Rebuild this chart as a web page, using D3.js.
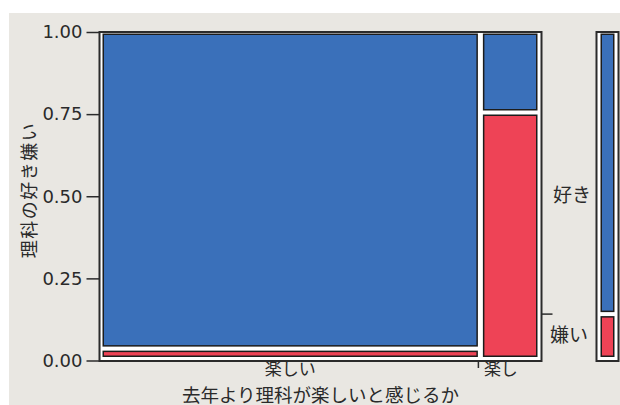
<!DOCTYPE html>
<html>
<head>
<meta charset="utf-8">
<script src="https://cdn.jsdelivr.net/npm/d3@7/dist/d3.min.js"></script>
<style>
  html, body { margin: 0; padding: 0; background: #ffffff; }
  svg { display: block; }
</style>
</head>
<body>
<script>
// ---- data ----
const xCategories = ["楽しい", "楽し"];          // x-axis groups (second label clipped)
const xShares = [0.873, 0.127];                  // column widths (share of respondents)
const yCategories = ["嫌い", "好き"];            // bottom to top
const dislikeShare = [0.02, 0.759];              // share of 嫌い within each column
const overallDislike = 0.128;                    // share of 嫌い overall (right panel)
const yTicks = [0, 0.25, 0.5, 0.75, 1];
const yTickLabels = ["0.00", "0.25", "0.50", "0.75", "1.00"];
const xTitle = "去年より理科が楽しいと感じるか";
const yTitle = "理科の好き嫌い";

// ---- layout ----
const W = 620, H = 405;
const BLUE = "#3a70ba", RED = "#ee4356", DARK = "#2b2b2b", BG = "#e9e7e2";
const TXT = "#2a2a2a";
const CJK = "'Noto Sans CJK JP', sans-serif";

const svg = d3.select("body").append("svg").attr("width", W).attr("height", H);
svg.append("rect").attr("x", 9).attr("y", 13).attr("width", W - 9).attr("height", H - 13).attr("fill", BG);

const frame = {x0: 99.5, x1: 541.5, y0: 32, y1: 361};
const tiles = {x0: 102.5, x1: 537.5, y0: 33.5, y1: 357};
const colGap = 5, rowGap = 4;

const y = d3.scaleLinear().domain([0, 1]).range([frame.y1 - 0.5, frame.y0]);

// frame
svg.append("rect")
  .attr("x", frame.x0).attr("y", frame.y0)
  .attr("width", frame.x1 - frame.x0).attr("height", frame.y1 - frame.y0)
  .attr("fill", "#ffffff").attr("stroke", DARK).attr("stroke-width", 2);

// y axis
const yAxis = d3.axisLeft(y).tickValues(yTicks).tickSize(13).tickPadding(4)
  .tickFormat((d, i) => yTickLabels[i]);
const gy = svg.append("g").attr("transform", `translate(${frame.x0},0)`).call(yAxis);
gy.select(".domain").remove();
gy.selectAll(".tick line").attr("stroke", DARK).attr("stroke-width", 1.5);
gy.selectAll(".tick text").attr("fill", TXT).style("font-family", "'DejaVu Sans', sans-serif").style("font-size", "18px");

// column scale
const totalW = (tiles.x1 - tiles.x0) - colGap * (xCategories.length - 1);
const cum = d3.cumsum([0, ...xShares]);
const xs = d3.scaleLinear().domain([0, 1]).range([0, totalW]);
const colX0 = i => tiles.x0 + xs(cum[i]) + i * colGap;
const colX1 = i => tiles.x0 + xs(cum[i + 1]) + i * colGap;

// row scale (within a column)
const rowH = (tiles.y1 - tiles.y0) - rowGap;
const hs = d3.scaleLinear().domain([0, 1]).range([0, rowH]);

function drawColumn(g, x0, x1, dis) {
  const redTop = tiles.y1 - hs(dis);
  const blueBottom = redTop - rowGap;
  const data = [
    {cat: yCategories[1], top: tiles.y0, bottom: blueBottom, fill: BLUE},
    {cat: yCategories[0], top: redTop, bottom: tiles.y1, fill: RED}
  ];
  g.selectAll(null).data(data).join("rect")
    .attr("x", x0 + 0.75).attr("y", d => d.top + 0.75)
    .attr("width", x1 - x0 - 1.5).attr("height", d => Math.max(0.5, d.bottom - d.top - 1.5))
    .attr("fill", d => d.fill).attr("stroke", "#1c1c1c").attr("stroke-width", 1.5);
}

const gMain = svg.append("g");
xCategories.forEach((c, i) => drawColumn(gMain, colX0(i), colX1(i), dislikeShare[i]));

// x-axis tick between columns
const boundary = (colX1(0) + colX0(1)) / 2 - 2;
svg.append("line").attr("x1", boundary).attr("x2", boundary)
  .attr("y1", frame.y1).attr("y2", frame.y1 + 7).attr("stroke", DARK).attr("stroke-width", 1.5);

// x category labels
svg.append("text").attr("x", (colX0(0) + colX1(0)) / 2).attr("y", 375)
  .attr("text-anchor", "middle").attr("fill", TXT)
  .style("font-family", CJK).style("font-size", "17px").text(xCategories[0]);
svg.append("text").attr("x", colX0(1) + 1).attr("y", 375)
  .attr("text-anchor", "start").attr("fill", TXT)
  .style("font-family", CJK).style("font-size", "17px").text(xCategories[1]);

// x title
svg.append("text").attr("x", (frame.x0 + frame.x1) / 2).attr("y", 401.5)
  .attr("text-anchor", "middle").attr("fill", TXT)
  .style("font-family", CJK).style("font-size", "18.5px").text(xTitle);

// y title
svg.append("text").attr("transform", "translate(36,190) rotate(-90)")
  .attr("text-anchor", "middle").attr("fill", TXT)
  .style("font-family", CJK).style("font-size", "18px").style("letter-spacing", "1.5px").text(yTitle);

// right overall panel
const rp = {x0: 596.5, x1: 618.5};
svg.append("rect").attr("x", rp.x0).attr("y", frame.y0)
  .attr("width", rp.x1 - rp.x0).attr("height", frame.y1 - frame.y0)
  .attr("fill", "#ffffff").attr("stroke", DARK).attr("stroke-width", 2);
const gAll = svg.append("g");
drawColumn(gAll, rp.x0 + 4, rp.x1 - 4, overallDislike);

// right axis tick & labels
const tickY = tiles.y1 - hs(overallDislike) - rowGap / 2;
svg.append("line").attr("x1", frame.x1).attr("x2", frame.x1 + 11)
  .attr("y1", tickY).attr("y2", tickY).attr("stroke", DARK).attr("stroke-width", 1.5);
svg.append("text").attr("x", 553).attr("y", 195).attr("dy", "0.36em")
  .attr("fill", TXT).style("font-family", CJK).style("font-size", "19px").text(yCategories[1]);
svg.append("text").attr("x", 550).attr("y", 335).attr("dy", "0.36em")
  .attr("fill", TXT).style("font-family", CJK).style("font-size", "19px").text(yCategories[0]);
</script>
</body>
</html>
